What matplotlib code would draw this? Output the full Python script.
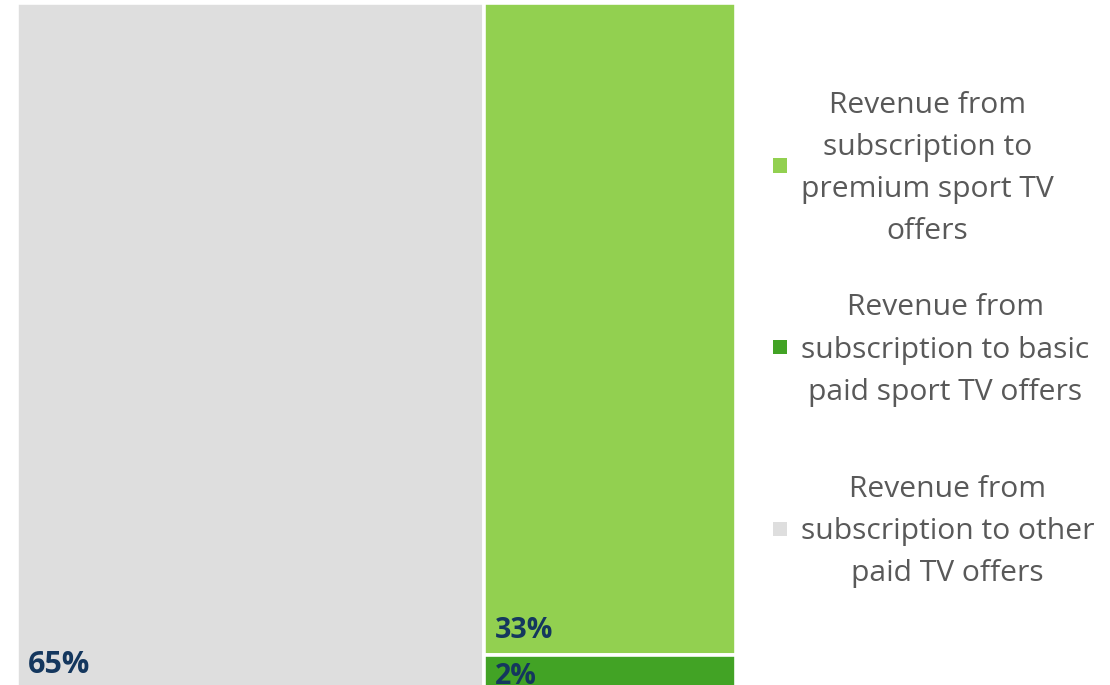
import matplotlib
matplotlib.use("Agg")
import matplotlib.pyplot as plt
from matplotlib.patches import Rectangle

# ---- data ----
categories = ["Revenue from subscription to other paid TV offers",
              "Revenue from subscription to premium sport TV offers",
              "Revenue from subscription to basic paid sport TV offers"]
values = [65, 33, 2]
value_labels = ["65%", "33%", "2%"]
legend_labels = ["Revenue from\nsubscription to\npremium sport TV\noffers",
                 "Revenue from\nsubscription to basic\npaid sport TV offers",
                 "Revenue from\nsubscription to other\npaid TV offers"]
legend_order = [1, 2, 0]

# ---- style ----
colors = ["#DEDEDE", "#92D050", "#42A325"]
label_color = "#14375E"
legend_color = "#595959"
FONT = ["Open Sans", "DejaVu Sans"]

W, H = 1110, 685
fig = plt.figure(figsize=(W / 100, H / 100), dpi=100)

# treemap area in pixel coordinates (top-left origin)
x0, x1 = 16.5, 735.5
y0, y1 = 3.5, 695.0
ax = fig.add_axes([x0 / W, 1 - y1 / H, (x1 - x0) / W, (y1 - y0) / H])
ax.set_xlim(0, 1)
ax.set_ylim(1, 0)
ax.axis("off")


def layout(vals):
    """First item takes a full-height column, the rest share the right column."""
    total = sum(vals)
    rects = []
    w0 = vals[0] / total
    rects.append((0.0, 0.0, w0, 1.0))
    rest = sum(vals[1:])
    y = 0.0
    for v in vals[1:]:
        h = v / rest
        rects.append((w0, y, 1 - w0, h))
        y += h
    return rects


rects = layout(values)
sizes = [22, 20.5, 20.5]
for i, (rx, ry, rw, rh) in enumerate(rects):
    ax.add_patch(Rectangle((rx, ry), rw, rh, facecolor=colors[i],
                           edgecolor="white", linewidth=2.6))
    if rh < 0.1:
        ax.annotate(value_labels[i], (rx, ry), xytext=(11, -29),
                    textcoords="offset pixels", ha="left", va="baseline",
                    fontsize=sizes[i], fontweight="bold", color=label_color,
                    family=FONT, annotation_clip=False)
    else:
        off = 22 if i == 0 else 17
        ax.annotate(value_labels[i], (rx, ry + rh), xytext=(11, off),
                    textcoords="offset pixels", ha="left", va="baseline",
                    fontsize=sizes[i], fontweight="bold", color=label_color,
                    family=FONT)

# ---- legend (manually laid out, equal slots) ----
slot_top = 168.5
slot_step = 181.5
for k, idx in enumerate(legend_order):
    cy = slot_top + k * slot_step
    fig.patches.append(Rectangle(((773) / W, 1 - (cy + 4) / H), 14 / W, 14 / H,
                                 transform=fig.transFigure,
                                 facecolor=colors[idx], edgecolor="none"))
    fig.text(801 / W, 1 - cy / H, legend_labels[k], ha="left", va="center",
             multialignment="center", fontsize=21.6, color=legend_color,
             family=FONT, linespacing=1.6)

fig.savefig("out.png", dpi=100)
